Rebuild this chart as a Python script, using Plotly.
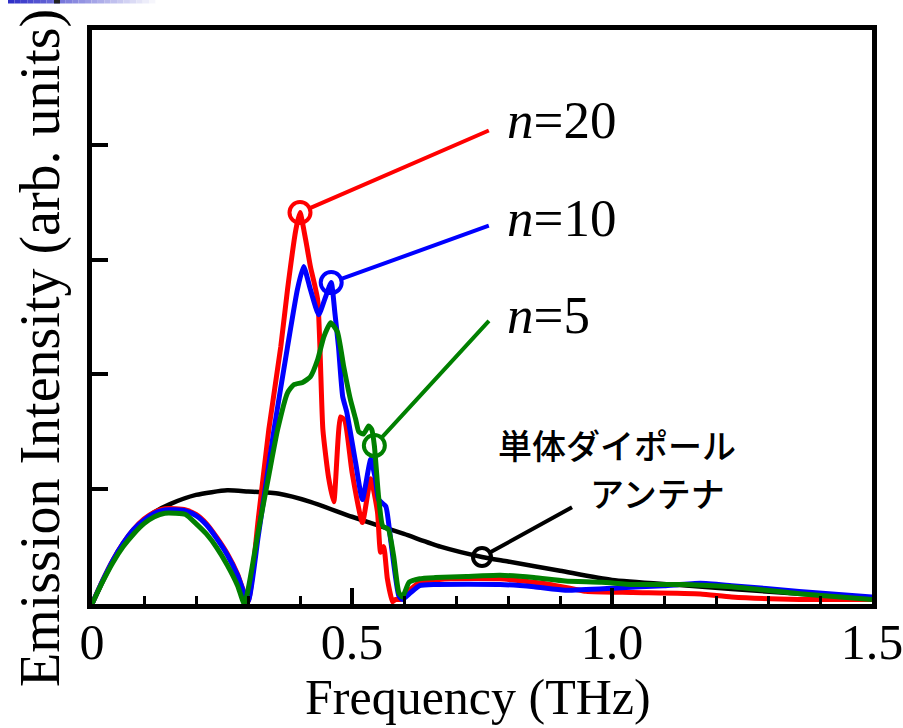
import plotly.graph_objects as go

# Emission spectra (arb. units) vs frequency (THz)
freq_single = [0, 0.02, 0.04, 0.06, 0.08, 0.10, 0.12, 0.15, 0.20, 0.26, 0.30, 0.36,
               0.42, 0.50, 0.60, 0.67, 0.75, 0.80, 0.90, 1.00, 1.13, 1.23, 1.36, 1.50]
int_single = [0, 0.19, 0.37, 0.52, 0.64, 0.73, 0.80, 0.87, 0.95, 0.99, 0.98, 0.96,
              0.89, 0.76, 0.61, 0.50, 0.41, 0.37, 0.29, 0.21, 0.165, 0.13, 0.09, 0.05]

freq_n20 = [0, 0.02, 0.04, 0.06, 0.08, 0.10, 0.12, 0.14, 0.16, 0.18, 0.20, 0.22, 0.24,
            0.26, 0.28, 0.30, 0.32, 0.34, 0.363, 0.376, 0.392, 0.40, 0.411, 0.42, 0.434,
            0.444, 0.455, 0.465, 0.478, 0.486, 0.50, 0.52, 0.536, 0.549, 0.555, 0.561,
            0.568, 0.578, 0.584, 0.593, 0.613, 0.63, 0.69, 0.785, 0.88, 0.95, 1.04,
            1.17, 1.23, 1.36, 1.50]
int_n20 = [0, 0.20, 0.38, 0.53, 0.65, 0.74, 0.80, 0.83, 0.83, 0.82, 0.78, 0.70, 0.58,
           0.44, 0.26, 0.02, 0.75, 1.52, 2.24, 2.74, 3.26, 3.41, 3.17, 2.94, 2.65,
           1.52, 1.10, 0.89, 1.63, 1.60, 1.15, 0.71, 1.09, 0.80, 0.45, 0.50,
           0.22, 0.02, 0.04, 0.04, 0.13, 0.19, 0.22, 0.22, 0.17, 0.11, 0.10,
           0.087, 0.06, 0.04, 0.04]

freq_n10 = [0, 0.02, 0.04, 0.06, 0.08, 0.10, 0.12, 0.14, 0.16, 0.18, 0.20, 0.22, 0.24,
            0.26, 0.28, 0.30, 0.32, 0.35, 0.376, 0.395, 0.407, 0.42, 0.436, 0.448,
            0.46, 0.467, 0.474, 0.482, 0.49, 0.507, 0.52, 0.536, 0.545, 0.551, 0.565,
            0.574, 0.59, 0.597, 0.613, 0.63, 0.66, 0.785, 0.85, 0.91, 1.01, 1.10,
            1.17, 1.23, 1.36, 1.50]
int_n10 = [0, 0.20, 0.38, 0.53, 0.65, 0.73, 0.79, 0.82, 0.82, 0.81, 0.77, 0.69, 0.57,
           0.43, 0.25, 0.02, 0.60, 1.52, 2.24, 2.74, 2.94, 2.74, 2.52, 2.66,
           2.80, 2.54, 2.24, 1.81, 1.67, 1.23, 0.91, 1.26, 1.09, 0.91, 0.85,
           0.57, 0.07, 0.04, 0.10, 0.16, 0.17, 0.17, 0.15, 0.12, 0.14, 0.16,
           0.18, 0.16, 0.11, 0.06]

freq_n5 = [0, 0.02, 0.04, 0.06, 0.08, 0.10, 0.12, 0.14, 0.16, 0.18, 0.20, 0.22, 0.24,
           0.26, 0.28, 0.293, 0.32, 0.34, 0.357, 0.376, 0.388, 0.405, 0.42, 0.434,
           0.446, 0.459, 0.472, 0.484, 0.497, 0.507, 0.513, 0.522, 0.532, 0.538,
           0.543, 0.551, 0.559, 0.57, 0.58, 0.59, 0.597, 0.61, 0.63, 0.66, 0.72,
           0.785, 0.85, 0.91, 0.98, 1.04, 1.14, 1.23, 1.36, 1.50]
int_n5 = [0, 0.19, 0.36, 0.50, 0.61, 0.70, 0.76, 0.79, 0.79, 0.78, 0.70, 0.61, 0.49,
          0.34, 0.16, 0.0, 0.64, 1.12, 1.52, 1.84, 1.91, 1.93, 1.98, 2.13,
          2.33, 2.45, 2.37, 2.07, 1.78, 1.61, 1.50, 1.48, 1.55, 1.52,
          1.38, 0.94, 0.68, 0.65, 0.42, 0.10, 0.06, 0.19, 0.22, 0.23, 0.24,
          0.25, 0.23, 0.20, 0.19, 0.17, 0.17, 0.15, 0.09, 0.04]

# Highlighted points and label anchors for each curve
callout_names = ["n20", "n10", "n5", "single"]
callout_x = [0.40, 0.46, 0.543, 0.75]
callout_y = [3.41, 2.80, 1.38, 0.41]
leader_end_x = [0.766, 0.766, 0.766, 0.926]
leader_end_y = [4.13, 3.30, 2.48, 0.85]
callout_colors = ["#ff0000", "#0000ff", "#008000", "#000000"]
callout_sizes = [21, 21, 21, 18]

n_labels = ["<i>n</i>=20", "<i>n</i>=10", "<i>n</i>=5"]
n_label_x = [0.794, 0.794, 0.794]
n_label_y = [4.22, 3.36, 2.52]

jp_lines = ["単体ダイポール", "アンテナ"]
jp_x = [1.01, 1.087]
jp_y = [1.39, 0.97]

x_ticks = [0, 0.5, 1.0, 1.5]
x_tick_text = ["0", "0.5", "1.0", "1.5"]

SERIF = "Liberation Serif, Times New Roman, serif"
CJK = "Noto Sans CJK JP, sans-serif"

fig = go.Figure()

fig.add_trace(go.Scatter(x=freq_single, y=int_single, mode="lines",
                         line=dict(color="#000000", width=4.5, shape="spline",
                                   smoothing=0.6)))
for fx, fy, col in [(freq_n20, int_n20, "#ff0000"),
                    (freq_n10, int_n10, "#0000ff"),
                    (freq_n5, int_n5, "#008000")]:
    fig.add_trace(go.Scatter(x=fx, y=fy, mode="lines",
                             line=dict(color=col, width=5, shape="spline",
                                       smoothing=0.5)))

# open circles on the highlighted points
for cx, cy, col, sz in zip(callout_x, callout_y, callout_colors, callout_sizes):
    fig.add_trace(go.Scatter(x=[cx], y=[cy], mode="markers",
                             marker=dict(symbol="circle-open", size=sz, color=col,
                                         line=dict(color=col, width=4))))

annotations = []
# leader lines from the circles out to the labels
for cx, cy, ex, ey, col, sz in zip(callout_x, callout_y, leader_end_x, leader_end_y,
                                   callout_colors, callout_sizes):
    annotations.append(dict(x=cx, y=cy, ax=ex, ay=ey, xref="x", yref="y",
                            axref="x", ayref="y", text="", showarrow=True,
                            arrowhead=0, arrowwidth=4, arrowcolor=col,
                            standoff=sz / 2 + 1))
for txt, lx, ly in zip(n_labels, n_label_x, n_label_y):
    annotations.append(dict(x=lx, y=ly, xref="x", yref="y", text=txt,
                            showarrow=False, xanchor="left", yanchor="middle",
                            font=dict(family=SERIF, size=53, color="#000000")))
for txt, lx, ly in zip(jp_lines, jp_x, jp_y):
    annotations.append(dict(x=lx, y=ly, xref="x", yref="y", text=txt,
                            showarrow=False, xanchor="center", yanchor="middle",
                            font=dict(family=CJK, size=34, color="#000000",
                                      weight=500)))
# axis titles
annotations.append(dict(x=(478 - 92) / 780, y=(604 - 697) / 574, xref="paper",
                        yref="paper", text="Frequency (THz)", showarrow=False,
                        xanchor="center", yanchor="middle",
                        font=dict(family=SERIF, size=50, color="#000000")))
annotations.append(dict(x=(40 - 92) / 780, y=(604 - 348) / 574, xref="paper",
                        yref="paper", text="Emission Intensity (arb. units)",
                        textangle=-90, showarrow=False, xanchor="center",
                        yanchor="middle",
                        font=dict(family=SERIF, size=56, color="#000000")))

# slide header strip in the top-left corner
shapes = []
n_seg = 24
x_start, x_end = 8, 162
for i in range(n_seg):
    t = i / (n_seg - 1)
    r = int(48 + (255 - 48) * t)
    g = int(48 + (255 - 48) * t)
    b = int(200 + (255 - 200) * t)
    xa = x_start + (x_end - x_start) * i / n_seg
    xb = x_start + (x_end - x_start) * (i + 1) / n_seg
    shapes.append(dict(type="rect", xref="paper", yref="paper",
                       x0=(xa - 92) / 780, x1=(xb - 92) / 780,
                       y0=(604 - 3.5) / 574, y1=(604 + 1) / 574,
                       line=dict(width=0), fillcolor=f"rgb({r},{g},{b})",
                       layer="above"))
shapes.append(dict(type="rect", xref="paper", yref="paper",
                   x0=(54 - 92) / 780, x1=(60 - 92) / 780,
                   y0=(604 - 3.5) / 574, y1=(604 + 1) / 574,
                   line=dict(width=0), fillcolor="#222222", layer="above"))

fig.update_layout(
    width=903, height=728,
    margin=dict(l=92, r=31, t=30, b=124, autoexpand=False),
    paper_bgcolor="#ffffff", plot_bgcolor="#ffffff",
    showlegend=False,
    annotations=annotations,
    shapes=shapes,
    xaxis=dict(range=[0, 1.5], showgrid=False, zeroline=False, automargin=False,
               showline=True, linecolor="#000000", linewidth=4.5, mirror=True,
               ticks="inside", ticklen=16, tickwidth=3.5, tickcolor="#000000",
               tickvals=x_ticks, ticktext=x_tick_text,
               ticklabeloverflow="allow", ticklabelstandoff=-10,
               tickfont=dict(family=SERIF, size=50, color="#000000"),
               minor=dict(dtick=0.1, ticks="inside", ticklen=8, tickwidth=3,
                          tickcolor="#000000", showgrid=False)),
    yaxis=dict(range=[0, 5], showgrid=False, zeroline=False, automargin=False,
               showline=True, linecolor="#000000", linewidth=4.5, mirror=True,
               ticks="inside", ticklen=16, tickwidth=3.5, tickcolor="#000000",
               dtick=1, showticklabels=False),
)

fig.write_html("out.html")
